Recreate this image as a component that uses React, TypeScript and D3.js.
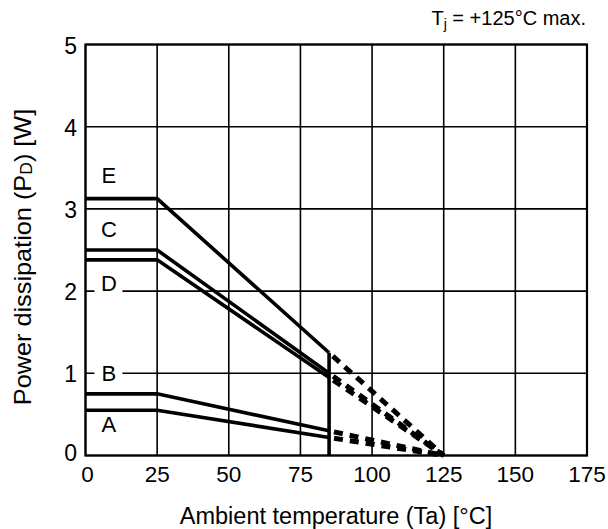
import React from "react";
import * as d3 from "d3";

const xTicks = [0, 25, 50, 75, 100, 125, 150, 175];
const yTicks = [0, 1, 2, 3, 4, 5];
const curveNames = ["A", "B", "C", "D", "E"];
const pdFlat = [0.55, 0.75, 2.5, 2.38, 3.125];
const pdAt85 = [0.22, 0.3, 1.0, 0.95, 1.25];
const tempBreaks = [0, 25, 85, 125];
const labelTemp = [8, 8, 8, 8, 8];
const labelPd = [0.38, 1.0, 2.76, 2.1, 3.41];

const W = 608;
const H = 529;
const FONT = "'Liberation Sans', Arial, Helvetica, sans-serif";

export default function App() {
  const x = d3.scaleLinear().domain([0, 175]).range([85.5, 587]);
  const y = d3.scaleLinear().domain([0, 5]).range([455.5, 44.5]);
  const line = d3
    .line<[number, number]>()
    .x((d) => x(d[0]))
    .y((d) => y(d[1]));

  const maxAt85 = d3.max(pdAt85) as number;

  return (
    <svg
      width={W}
      height={H}
      style={{ position: "absolute", left: 0, top: 0, background: "#fff" }}
      fontFamily={FONT}
    >
      <rect x={0} y={0} width={W} height={H} fill="#fff" />
      {/* grid */}
      {xTicks.map((t) => (
        <line
          key={"gx" + t}
          x1={x(t)}
          x2={x(t)}
          y1={y(0)}
          y2={y(5)}
          stroke="#000"
          strokeWidth={1.6}
        />
      ))}
      {yTicks.map((t) => (
        <line
          key={"gy" + t}
          x1={x(0)}
          x2={x(175)}
          y1={y(t)}
          y2={y(t)}
          stroke="#000"
          strokeWidth={1.6}
        />
      ))}
      <rect
        x={x(0)}
        y={y(5)}
        width={x(175) - x(0)}
        height={y(0) - y(5)}
        fill="none"
        stroke="#000"
        strokeWidth={2.2}
      />
      {/* curves */}
      {curveNames.map((n, i) => {
        const solid: [number, number][] = [
          [tempBreaks[0], pdFlat[i]],
          [tempBreaks[1], pdFlat[i]],
          [tempBreaks[2], pdAt85[i]],
        ];
        const dashed: [number, number][] = [
          [tempBreaks[2], pdAt85[i]],
          [tempBreaks[3], 0],
        ];
        return (
          <g key={n}>
            <path d={line(solid) || ""} fill="none" stroke="#000" strokeWidth={3.6} strokeLinejoin="miter" />
            <path
              d={line(dashed) || ""}
              fill="none"
              stroke="#000"
              strokeWidth={5}
              strokeDasharray="9,7"
              strokeDashoffset={-5}
            />
          </g>
        );
      })}
      {/* vertical at 85 */}
      <line
        x1={x(tempBreaks[2])}
        x2={x(tempBreaks[2])}
        y1={y(maxAt85)}
        y2={y(0)}
        stroke="#000"
        strokeWidth={3.6}
      />
      {/* curve labels */}
      {curveNames.map((n, i) => (
        <g key={"lab" + n}>
          <rect
            x={x(labelTemp[i]) - 14}
            y={y(labelPd[i]) - 12}
            width={28}
            height={24}
            fill="#fff"
          />
          <text
            x={x(labelTemp[i]) + 0.5}
            y={y(labelPd[i]) + 8}
            fontSize={22}
            textAnchor="middle"
          >
            {n}
          </text>
        </g>
      ))}
      {/* y tick labels */}
      {yTicks.map((t) => (
        <text
          key={"yl" + t}
          x={77}
          y={t === 0 ? y(t) + 5 : y(t) + 9}
          fontSize={23}
          textAnchor="end"
        >
          {t}
        </text>
      ))}
      {/* x tick labels */}
      {xTicks.map((t) => (
        <text key={"xl" + t} x={x(t) + (t === 0 ? 2 : 0)} y={482} fontSize={22.5} textAnchor="middle">
          {t}
        </text>
      ))}
      {/* title */}
      <text x={586} y={25} fontSize={20} textAnchor="end">
        T<tspan fontSize={14} dy={4}>j</tspan>
        <tspan dy={-4}> = +125°C max.</tspan>
      </text>
      {/* axis titles */}
      <text x={336} y={524} fontSize={23.5} textAnchor="middle">
        Ambient temperature (Ta) [°C]
      </text>
      <text
        transform={`translate(31, 257) rotate(-90) scale(1.1, 1)`}
        fontSize={23}
        textAnchor="middle"
      >
        Power dissipation (P<tspan fontSize={16} dy={1}>D</tspan>
        <tspan dy={-1}>) [W]</tspan>
      </text>
    </svg>
  );
}
